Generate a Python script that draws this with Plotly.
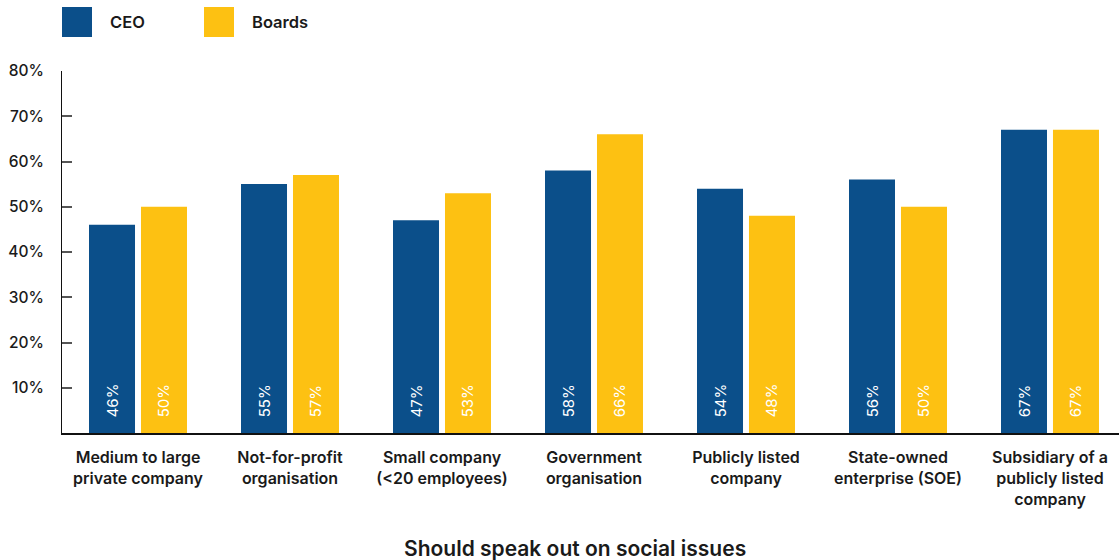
import plotly.graph_objects as go

categories = [
    "Medium to large<br>private company",
    "Not-for-profit<br>organisation",
    "Small company<br>(<20 employees)",
    "Government<br>organisation",
    "Publicly listed<br>company",
    "State-owned<br>enterprise (SOE)",
    "Subsidiary of a<br>publicly listed<br>company",
]
ceo = [46, 55, 47, 58, 54, 56, 67]
boards = [50, 57, 53, 66, 48, 50, 67]
series_names = ["CEO", "Boards"]
y_ticks = [0, 10, 20, 30, 40, 50, 60, 70, 80]
y_tick_labels = ["", "10%", "20%", "30%", "40%", "50%", "60%", "70%", "80%"]
x_title = "Should speak out on social issues"

BLUE = "#0B4F8A"
GOLD = "#FDC112"
FONT = "Inter"
TEXT = "#1a1a1a"

fig = go.Figure()
for name, vals, color in [(series_names[0], ceo, BLUE), (series_names[1], boards, GOLD)]:
    fig.add_trace(go.Bar(
        name=name,
        x=list(range(len(categories))),
        y=vals,
        marker=dict(color=color, line=dict(width=0)),
        text=[f"{v}%" for v in vals],
        texttemplate="   %{text}",
        textposition="inside",
        insidetextanchor="start",
        textangle=-90,
        insidetextfont=dict(family=FONT, size=15, color="white"),
        showlegend=False,
        hoverinfo="skip",
    ))

fig.update_layout(
    width=1119,
    height=560,
    margin=dict(l=62, r=0, t=71, b=127),
    paper_bgcolor="white",
    plot_bgcolor="white",
    barmode="group",
    bargap=0.316,
    bargroupgap=0.115,
    font=dict(family=FONT, color=TEXT),
    uniformtext=dict(mode=False),
)

fig.update_xaxes(
    range=[-0.5, 6.454],
    tickvals=list(range(len(categories))),
    ticktext=categories,
    tickfont=dict(family=FONT, size=16, color=TEXT, weight=600),
    showline=True,
    linecolor="#111111",
    linewidth=1.5,
    ticks="",
    ticklabelstandoff=9,
    showgrid=False,
    zeroline=False,
    fixedrange=True,
)

fig.update_yaxes(
    range=[0, 80],
    tickvals=y_ticks,
    ticktext=y_tick_labels,
    tickfont=dict(family=FONT, size=15.5, color=TEXT, weight=500),
    showline=True,
    linecolor="#111111",
    linewidth=1,
    ticks="inside",
    ticklen=10,
    tickcolor="#555555",
    tickwidth=1.5,
    ticklabelstandoff=14,
    showgrid=False,
    zeroline=False,
    fixedrange=True,
)

# legend swatches and labels
legend_items = [(series_names[0], BLUE, 62), (series_names[1], GOLD, 204)]
for name, color, px in legend_items:
    fig.add_shape(type="rect", xref="paper", yref="paper",
                  x0=(px - 62) / 1057, x1=(px + 30 - 62) / 1057,
                  y0=(560 - 37 - 127) / 362, y1=(560 - 7 - 127) / 362,
                  fillcolor=color, line=dict(width=0))
    fig.add_annotation(xref="paper", yref="paper",
                       x=(px + 46 - 62) / 1057, y=(560 - 22 - 127) / 362,
                       xanchor="left", yanchor="middle", showarrow=False,
                       text=name, font=dict(family=FONT, size=16.5, color=TEXT, weight=600))

fig.add_annotation(xref="paper", yref="paper",
                   x=(575 - 62) / 1057, y=(560 - 548 - 127) / 362,
                   xanchor="center", yanchor="middle", showarrow=False,
                   text=x_title, font=dict(family=FONT, size=21, color=TEXT, weight=600))

fig.write_html("out.html")
